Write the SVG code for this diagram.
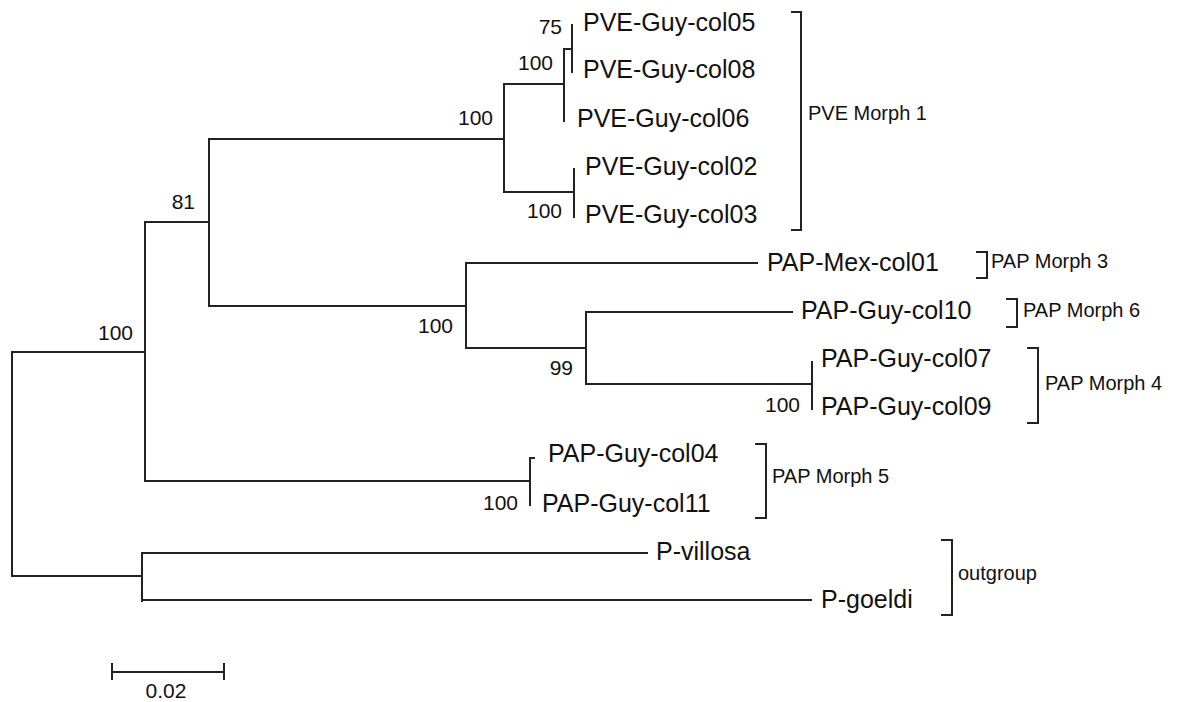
<svg xmlns="http://www.w3.org/2000/svg" width="1178" height="702" viewBox="0 0 1178 702">
<style>
.br{stroke:#222;stroke-width:2;fill:none;stroke-linecap:square}
.tx{font-family:"Liberation Sans",Arial,sans-serif;font-size:25px;fill:#111}
.bs{font-family:"Liberation Sans",Arial,sans-serif;font-size:21px;fill:#111;text-anchor:end}
.gl{font-family:"Liberation Sans",Arial,sans-serif;font-size:20px;fill:#111}
</style>
<rect width="1178" height="702" fill="#fff"/>
<g id="connectors" class="br">
<path d="M12,352V576M12,352H145M12,576H142"/>
<path d="M145,222V481M145,222H209M145,481H530"/>
<path d="M209,139V306M209,139H504M209,306H466"/>
<path d="M504,84V192M504,84H564M504,192H574"/>
<path d="M564,49V121M564,49H572"/>
<path d="M572,25V72"/>
<path d="M574,169V217"/>
<path d="M466,263V348M466,263H757M466,348H586"/>
<path d="M586,312V384M586,312H792M586,384H812"/>
<path d="M812,362V409"/>
<path d="M530,458V505M530,458H534"/>
<path d="M142,553V601M142,553H647M142,600H811"/>
</g>
<g id="taxa">
<g id="n-col05"><text class="tx" x="583" y="31">PVE-Guy-col05</text></g>
<g id="n-col08"><text class="tx" x="583" y="78">PVE-Guy-col08</text></g>
<g id="n-col06"><text class="tx" x="577" y="127">PVE-Guy-col06</text></g>
<g id="n-col02"><text class="tx" x="585" y="175">PVE-Guy-col02</text></g>
<g id="n-col03"><text class="tx" x="585" y="223">PVE-Guy-col03</text></g>
<g id="n-mex01"><text class="tx" x="767" y="271">PAP-Mex-col01</text></g>
<g id="n-col10"><text class="tx" x="801" y="319">PAP-Guy-col10</text></g>
<g id="n-col07"><text class="tx" x="821" y="367">PAP-Guy-col07</text></g>
<g id="n-col09"><text class="tx" x="821" y="415">PAP-Guy-col09</text></g>
<g id="n-col04"><text class="tx" x="548" y="462">PAP-Guy-col04</text></g>
<g id="n-col11"><text class="tx" x="542" y="512">PAP-Guy-col11</text></g>
<g id="n-villosa"><text class="tx" x="656" y="560">P-villosa</text></g>
<g id="n-goeldi"><text class="tx" x="821" y="608">P-goeldi</text></g>
</g>
<g id="bootstrap">
<text class="bs" x="562" y="34">75</text>
<text class="bs" x="553" y="70">100</text>
<text class="bs" x="493" y="125">100</text>
<text class="bs" x="562" y="218">100</text>
<text class="bs" x="195" y="209">81</text>
<text class="bs" x="133" y="340">100</text>
<text class="bs" x="453" y="333">100</text>
<text class="bs" x="573" y="375">99</text>
<text class="bs" x="800" y="412">100</text>
<text class="bs" x="518" y="510">100</text>
</g>
<g id="groups">
<g id="g-pve1"><path class="br" d="M792,12H801V230H792"/><text class="gl" x="808" y="120">PVE Morph 1</text></g>
<g id="g-pap3"><path class="br" d="M977,252H987V278H977"/><text class="gl" x="991" y="268">PAP Morph 3</text></g>
<g id="g-pap6"><path class="br" d="M1007,299H1017V327H1007"/><text class="gl" x="1023" y="317">PAP Morph 6</text></g>
<g id="g-pap4"><path class="br" d="M1028,348H1038V423H1028"/><text class="gl" x="1045" y="390">PAP Morph 4</text></g>
<g id="g-pap5"><path class="br" d="M756,444H766V518H756"/><text class="gl" x="772" y="483">PAP Morph 5</text></g>
<g id="g-out"><path class="br" d="M942,540H952V615H942"/><text class="gl" x="958" y="580">outgroup</text></g>
</g>
<g id="scale">
<path class="br" d="M112,672H224M112,664V679M224,664V679"/>
<text class="bs" x="166" y="698" style="text-anchor:middle">0.02</text>
</g>
</svg>
